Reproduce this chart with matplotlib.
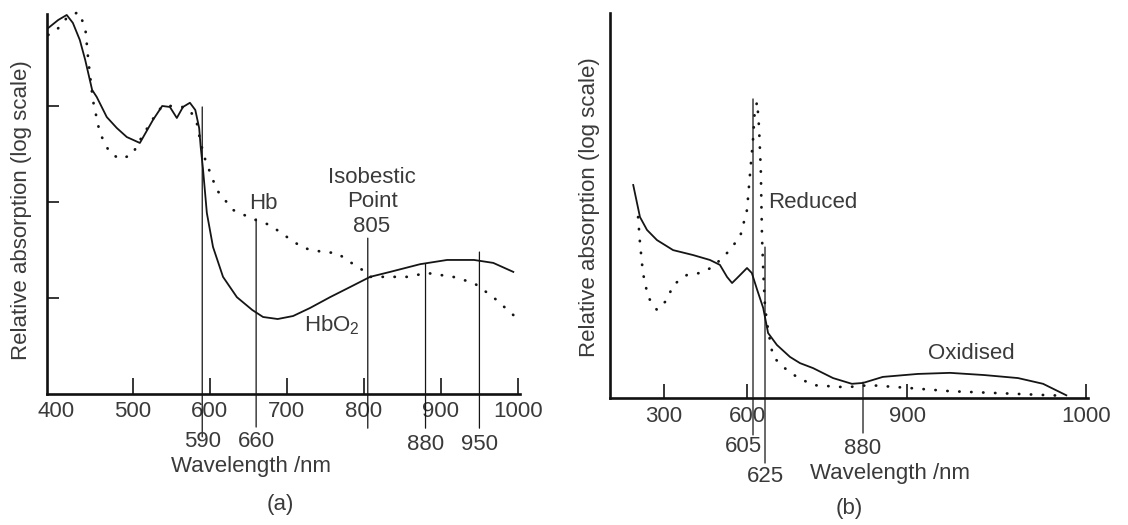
import matplotlib
matplotlib.use("Agg")
import matplotlib.pyplot as plt
from matplotlib.ticker import NullLocator
import numpy as np

plt.rcParams['font.family'] = ['Liberation Sans', 'DejaVu Sans']
plt.rcParams['mathtext.fontset'] = 'custom'
plt.rcParams['mathtext.rm'] = 'Liberation Sans'
plt.rcParams['mathtext.it'] = 'Liberation Sans:italic'
plt.rcParams['text.color'] = '#3a3a3a'

# ---- panel (a): haemoglobin (log scale) ----
hbo2_wl = [390, 403, 414, 422, 431, 438, 447, 453, 466, 479, 492, 509, 526, 538,
           548, 557, 565, 574, 581, 586, 588, 591, 596, 604, 617, 635, 655, 669,
           688, 708, 730, 756, 782, 808, 834, 873, 908, 943, 968, 994]
hbo2_abs = [64.9, 78.7, 88.7, 73.3, 48.7, 30.2, 14.7, 12.4, 7.67, 5.9, 4.75, 4.12,
            7.15, 10.0, 9.77, 7.5, 9.77, 10.8, 9.08, 5.9, 3.74, 2.2, 0.767, 0.34,
            0.166, 0.102, 0.075, 0.0634, 0.0604, 0.0649, 0.0787, 0.102, 0.130,
            0.166, 0.187, 0.225, 0.249, 0.249, 0.232, 0.187]

hb_wl = [390, 401, 414, 429, 438, 442, 448, 457, 470, 483, 499, 507, 525, 538, 552,
         564, 574, 583, 588, 594, 609, 630, 656, 678, 700, 721, 747, 765, 782, 798,
         808, 830, 856, 882, 916, 943, 968, 994]
hb_abs = [55, 61.9, 82.5, 95.2, 66.5, 30.2, 11.5, 5.23, 3.24, 2.81, 3.09, 4.12, 7.15,
          10.0, 10.0, 9.77, 9.08, 6.65, 4.12, 2.74, 1.33, 0.826, 0.665, 0.575,
          0.432, 0.332, 0.301, 0.294, 0.237, 0.196, 0.166, 0.166, 0.166, 0.182,
          0.166, 0.143, 0.102, 0.0665]

a_ticks = [400, 500, 600, 700, 800, 900, 1000]
a_marks = [590, 660, 805, 880, 950]
a_mark_tops = [9.77, 0.665, 0.42, 0.225, 0.301]
a_mark_labels = [590, 660, 880, 950]

# ---- panel (b): cytochrome (log scale) ----
ox_wl = [186, 211, 237, 274, 333, 405, 466, 502, 528, 546, 568, 600, 604, 612, 622,
         633, 656, 690, 716, 750, 802, 851, 880, 889, 906, 924, 943, 962, 976, 989]
ox_abs = [45.7, 25.7, 20.4, 17.0, 14.2, 13.0, 11.9, 10.9, 8.77, 7.87, 8.77, 10.3,
          9.42, 6.95, 5.03, 3.21, 2.59, 2.09, 1.87, 1.71, 1.43, 1.29, 1.31, 1.46,
          1.54, 1.57, 1.51, 1.43, 1.29, 1.05]

red_wl = [204, 211, 222, 241, 274, 311, 333, 383, 430, 477, 528, 575, 600, 603, 605,
          608, 612, 615, 618, 620, 622.5, 625, 633, 646, 682, 708, 750, 820, 846,
          883, 900, 924, 952, 980, 989]
red_abs = [25.7, 16.2, 9.42, 6.12, 4.85, 5.81, 7.6, 9.1, 9.42, 10.5, 13.5, 18.0,
           29.2, 63.1, 102.5, 175.8, 202.9, 129.5, 59.8, 18.0, 8.77, 5.12, 3.39,
           2.09, 1.65, 1.46, 1.26, 1.22, 1.22, 1.26, 1.20, 1.13, 1.09, 1.05, 1.04]

b_ticks = [300, 600, 900, 1000]
b_marks = [605, 625, 880]
b_mark_tops = [214, 15.0, 1.33]

# the hand-drawn axis of (b) is not linear: anchors of its spacing
b_axis_wl = [0, 300, 600, 605, 625, 880, 900, 1000, 1100]
b_axis_pos = [583, 664, 747, 753, 765, 863, 907, 1086, 1265]

LINE = '#151515'
TXT = '#3a3a3a'
FS = 16


def style_axes(ax):
    for s in ['top', 'right']:
        ax.spines[s].set_visible(False)
    for s in ['left', 'bottom']:
        ax.spines[s].set_linewidth(1.9)
        ax.spines[s].set_color('#111111')
    ax.yaxis.set_minor_locator(NullLocator())
    ax.xaxis.set_minor_locator(NullLocator())


def draw_marks(ax, wls, tops, bottoms):
    for w, t, b in zip(wls, tops, bottoms):
        ax.annotate('', xy=(w, t), xycoords='data', xytext=(w, b),
                    textcoords=('data', 'axes fraction'), annotation_clip=False,
                    arrowprops=dict(arrowstyle='-', lw=0.9, color=LINE,
                                    shrinkA=0, shrinkB=0))


def mark_labels(ax, wls, ys, dxs):
    for w, y, dx in zip(wls, ys, dxs):
        ax.annotate(str(w), xy=(w, y), xycoords=('data', 'axes fraction'),
                    xytext=(dx, 0), textcoords='offset points',
                    ha='center', va='center', fontsize=FS, color=TXT,
                    annotation_clip=False)


fig = plt.figure(figsize=(11.28, 5.25), dpi=100)

# ----- (a) -----
ax1 = fig.add_axes([46.7 / 1128, 131 / 525, 473.3 / 1128, 380 / 525])
ax1.set_yscale('log')
ax1.plot(hbo2_wl, hbo2_abs, color=LINE, lw=1.3, clip_on=False)
ax1.plot(hb_wl, hb_abs, color=LINE, lw=2.0, linestyle=(0, (0.1, 4.2)),
         dash_capstyle='round', clip_on=False)
ax1.set_xlim(388, 1002.7)
ax1.set_ylim(0.01, 90.8)
style_axes(ax1)
ax1.set_xticks(a_ticks)
ax1.set_xticklabels([str(t) for t in a_ticks])
ax1.set_yticks([0.1, 1, 10])
ax1.set_yticklabels([])
ax1.tick_params(axis='x', direction='in', length=11.5, width=1.1, pad=5,
                labelsize=FS, labelcolor=TXT)
ax1.tick_params(axis='y', direction='in', length=8.6, width=1.1)
ax1.xaxis.get_major_ticks()[0].tick1line.set_visible(False)

draw_marks(ax1, a_marks, a_mark_tops, [-0.113, -0.087, -0.09, -0.09, -0.09])
mark_labels(ax1, a_mark_labels, [-0.126, -0.126, -0.134, -0.134], [0, 0, 0, 0])

ax1.text(669, 0.976, 'Hb', ha='center', va='center', fontsize=FS)
ax1.text(810.5, 1.0, 'Isobestic\nPoint\n805', ha='center', va='center',
         fontsize=FS, multialignment='center')
ax1.text(758.5, 0.0524, r'HbO$_\mathregular{2}$', ha='center', va='center',
         fontsize=FS)

ax1.set_xlabel('Wavelength /nm', fontsize=FS, color=TXT)
ax1.xaxis.set_label_coords(0.4317, -0.163)
ax1.set_ylabel('Relative absorption (log scale)', fontsize=FS, color=TXT)
ax1.yaxis.set_label_coords(-0.032, 0.484)
ax1.text(0.493, -0.292, '(a)', transform=ax1.transAxes, ha='center',
         va='center', fontsize=FS)


# ----- (b) -----
def fwd(x):
    return np.interp(x, b_axis_wl, b_axis_pos)


def inv(p):
    return np.interp(p, b_axis_pos, b_axis_wl)


ax2 = fig.add_axes([610 / 1128, 127 / 525, 477.8 / 1128, 385 / 525])
ax2.set_xscale('function', functions=(fwd, inv))
ax2.set_yscale('log')
ax2.plot(ox_wl, ox_abs, color=LINE, lw=1.3, clip_on=False)
ax2.plot(red_wl, red_abs, color=LINE, lw=2.0, linestyle=(0, (0.1, 4.2)),
         dash_capstyle='round', clip_on=False)
ax2.set_xlim(100, 1001)
ax2.set_ylim(1, 1000)
style_axes(ax2)
ax2.set_xticks(b_ticks)
ax2.set_xticklabels([str(t) for t in b_ticks])
ax2.xaxis.set_minor_locator(NullLocator())
ax2.set_yticks([])
ax2.tick_params(axis='x', direction='in', length=10, width=1.1, pad=6,
                labelsize=FS, labelcolor=TXT)

draw_marks(ax2, b_marks, b_mark_tops, [-0.096, -0.169, -0.091])
mark_labels(ax2, b_marks, [-0.127, -0.205, -0.130], [-7, 0, 0])

ax2.text(750, 33.1, 'Reduced', ha='center', va='center', fontsize=FS)
ax2.text(936, 2.24, 'Oxidised', ha='center', va='center', fontsize=FS)

ax2.set_xlabel('Wavelength /nm', fontsize=FS, color=TXT)
ax2.xaxis.set_label_coords(0.586, -0.169)
ax2.set_ylabel('Relative absorption (log scale)', fontsize=FS, color=TXT)
ax2.yaxis.set_label_coords(-0.021, 0.496)
ax2.text(0.5, -0.286, '(b)', transform=ax2.transAxes, ha='center',
         va='center', fontsize=FS)

fig.savefig('out.png', dpi=100, facecolor='white')
